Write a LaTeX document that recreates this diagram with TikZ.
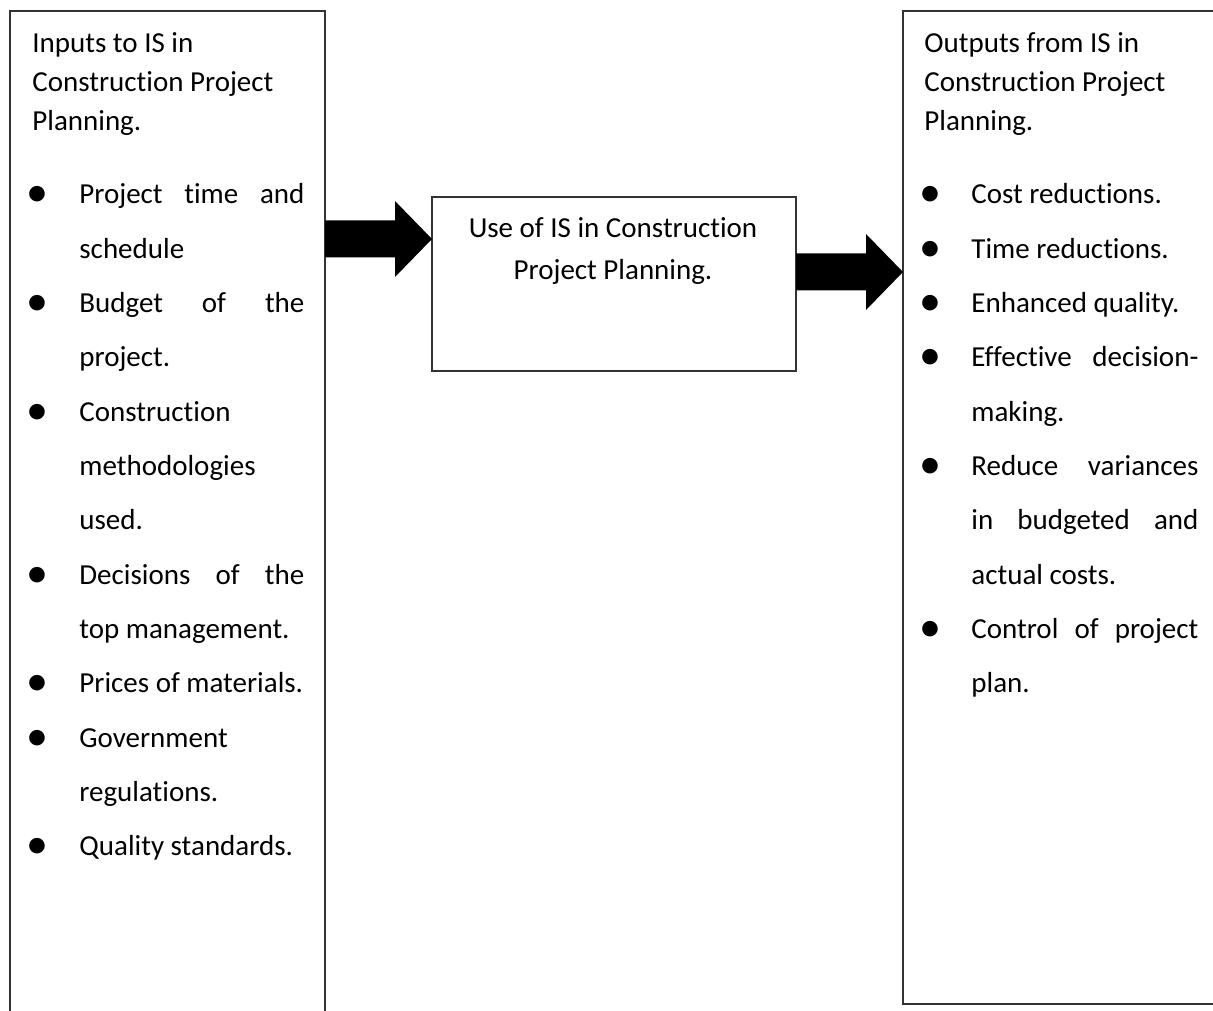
\documentclass[tikz,border=0pt]{standalone}
\usepackage{fontspec}
\setmainfont{Carlito}[Ligatures=NoCommon]
\usetikzlibrary{calc}
\def\blockarrow(#1)(#2){\fill[black] ($(#1)+(0,-18.5)$) -- ($(#2)+(-37,-18.5)$) -- ($(#2)+(-37,-38)$) -- (#2) -- ($(#2)+(-37,38)$) -- ($(#2)+(-37,18.5)$) -- ($(#1)+(0,18.5)$) -- cycle;}
\def\bul{{\fontsize{22}{22}\selectfont\textbullet}}

\begin{document}
\begin{tikzpicture}[x=0.5pt, y=-0.5pt,
		box/.style={draw=black!80, line width=0.7pt, inner sep=0pt, outer sep=0pt},
		txt/.style={anchor=base west, inner sep=0pt, yshift=-1.5pt, font=\fontsize{14.5}{14.5}\selectfont},
		dot/.style={anchor=base, inner sep=0pt, yshift=-3pt}]
			%%%%% START %%%%%
			
			\clip (0, 0) rectangle (1213, 1010);
			\fill[white] (0, 0) rectangle (1213, 1010);
			
			\node[box, minimum width=157.5pt, minimum height=514.5pt] (inputs) at (167.5, 525.5) {};
			\node[box, minimum width=182pt, minimum height=87pt] (use) at (614, 284) {};
			\node[box, minimum width=168.5pt, minimum height=496.5pt] (outputs) at (1071.5, 507.5) {};
			
			\coordinate (a1s) at (inputs.east |- 0, 239);
			\coordinate (a1e) at (use.west |- 0, 239);
			\blockarrow(a1s)(a1e)
			\coordinate (a2s) at (use.east |- 0, 272);
			\coordinate (a2e) at (outputs.west |- 0, 272);
			\blockarrow(a2s)(a2e)
			
			\node[txt] (inh1) at (32, 50) {Inputs to IS in};
			\node[txt] (inh2) at (32, 89) {Construction Project};
			\node[txt] (inh3) at (32, 128) {Planning.};
			
			\node[dot] (ib1) at (37, 201) {\bul};
			\node[txt] (in1) at (79, 201) {\makebox[112.5pt][s]{Project time and}};
			\node[txt] (in2) at (79, 255.3) {schedule};
			\node[dot] (ib2) at (37, 309.6) {\bul};
			\node[txt] (in3) at (79, 309.6) {\makebox[112.5pt][s]{Budget of the}};
			\node[txt] (in4) at (79, 363.9) {project.};
			\node[dot] (ib3) at (37, 418.2) {\bul};
			\node[txt] (in5) at (79, 418.2) {Construction};
			\node[txt] (in6) at (79, 472.5) {methodologies};
			\node[txt] (in7) at (79, 526.8) {used.};
			\node[dot] (ib4) at (37, 581.1) {\bul};
			\node[txt] (in8) at (79, 581.1) {\makebox[112.5pt][s]{Decisions of the}};
			\node[txt] (in9) at (79, 635.4) {top management.};
			\node[dot] (ib5) at (37, 689.7) {\bul};
			\node[txt] (in10) at (79, 689.7) {Prices of materials.};
			\node[dot] (ib6) at (37, 744) {\bul};
			\node[txt] (in11) at (79, 744) {Government};
			\node[txt] (in12) at (79, 798.3) {regulations.};
			\node[dot] (ib7) at (37, 852.6) {\bul};
			\node[txt] (in13) at (79, 852.6) {Quality standards.};
			
			\node[txt, anchor=base] (use1) at (613, 235) {Use of IS in Construction};
			\node[txt, anchor=base] (use2) at (613, 277) {Project Planning.};
			
			\node[txt] (outh1) at (924, 50) {Outputs from IS in};
			\node[txt] (outh2) at (924, 89) {Construction Project};
			\node[txt] (outh3) at (924, 128) {Planning.};
			
			\node[dot] (ob1) at (930, 201) {\bul};
			\node[txt] (out1) at (971, 201) {Cost reductions.};
			\node[dot] (ob2) at (930, 255.3) {\bul};
			\node[txt] (out2) at (971, 255.3) {Time reductions.};
			\node[dot] (ob3) at (930, 309.6) {\bul};
			\node[txt] (out3) at (971, 309.6) {Enhanced quality.};
			\node[dot] (ob4) at (930, 363.9) {\bul};
			\node[txt] (out4) at (971, 363.9) {\makebox[113.5pt][s]{Effective decision-}};
			\node[txt] (out5) at (971, 418.2) {making.};
			\node[dot] (ob5) at (930, 472.5) {\bul};
			\node[txt] (out6) at (971, 472.5) {\makebox[113.5pt][s]{Reduce variances}};
			\node[txt] (out7) at (971, 526.8) {\makebox[113.5pt][s]{in budgeted and}};
			\node[txt] (out8) at (971, 581.1) {actual costs.};
			\node[dot] (ob6) at (930, 635.4) {\bul};
			\node[txt] (out9) at (971, 635.4) {\makebox[113.5pt][s]{Control of project}};
			\node[txt] (out10) at (971, 689.7) {plan.};
			
			%%%%% END %%%%%
\end{tikzpicture}
\end{document}
